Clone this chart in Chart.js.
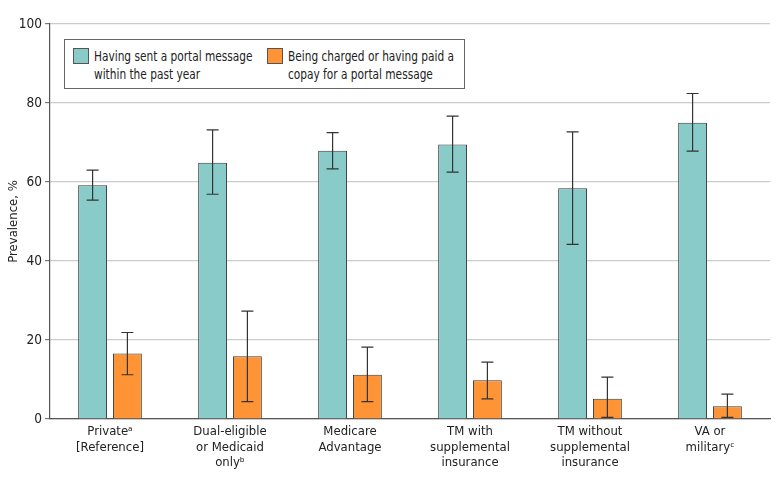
<!DOCTYPE html>
<html>
<head>
<meta charset="utf-8">
<script src="https://cdn.jsdelivr.net/npm/chart.js@4"></script>
<style>
  body { margin: 0; background: #fff; }
  #wrap { position: relative; width: 780px; height: 485px; }
  #legend {
    position: absolute; left: 64px; top: 39px; width: 401px; height: 50px;
    border: 1px solid #666; background: #fff; box-sizing: border-box;
    font-family: "DejaVu Sans Condensed", sans-serif;
    font-size: 14px; color: #222; line-height: 18px;
  }
  .item { position: absolute; top: 7px; }
  .sw { position: absolute; top: 1px; left: 0; width: 14px; height: 14px; border: 1px solid #555; }
  .txt { position: absolute; left: 21px; top: 0; white-space: nowrap; transform: scaleX(0.84); transform-origin: 0 0; }
</style>
</head>
<body>
<div id="wrap">
  <canvas id="c" width="780" height="485"></canvas>
  <div id="legend">
    <div class="item" style="left:8px"><span class="sw" style="background:#88CBC8"></span><span class="txt">Having sent a portal message<br>within the past year</span></div>
    <div class="item" style="left:202px"><span class="sw" style="background:#FF9436"></span><span class="txt">Being charged or having paid a<br>copay for a portal message</span></div>
  </div>
</div>
<script>
const categories = [
  ['Private\u1D43', '[Reference]'],
  ['Dual-eligible', 'or Medicaid', 'only\u1D47'],
  ['Medicare', 'Advantage'],
  ['TM with', 'supplemental', 'insurance'],
  ['TM without', 'supplemental', 'insurance'],
  ['VA or', 'military\u1D9C']
];
const sentMessage = [59.2, 64.9, 67.9, 69.5, 58.4, 75.0];
const sentLow = [55.4, 56.9, 63.3, 62.5, 44.2, 67.8];
const sentHigh = [63.0, 73.2, 72.5, 76.7, 72.7, 82.4];
const charged = [16.6, 15.9, 11.2, 9.8, 5.1, 3.2];
const chargedLow = [11.2, 4.4, 4.4, 5.1, 0.4, 0.4];
const chargedHigh = [21.9, 27.3, 18.2, 14.4, 10.6, 6.3];
const yTicks = [0, 20, 40, 60, 80, 100];

const font = "'DejaVu Sans Condensed', sans-serif";

// error bars drawn from the low/high arrays through the y scale
const errorBars = {
  id: 'errorBars',
  afterDatasetsDraw(chart) {
    const ctx = chart.ctx;
    const y = chart.scales.y;
    chart.data.datasets.forEach((ds, i) => {
      const meta = chart.getDatasetMeta(i);
      meta.data.forEach((bar, j) => {
        const top = y.getPixelForValue(ds.errHigh[j]);
        const bot = y.getPixelForValue(ds.errLow[j]);
        ctx.save();
        ctx.strokeStyle = '#333';
        ctx.lineWidth = 1.2;
        ctx.beginPath();
        ctx.moveTo(bar.x, top); ctx.lineTo(bar.x, bot);
        ctx.moveTo(bar.x - 6, top); ctx.lineTo(bar.x + 6, top);
        ctx.moveTo(bar.x - 6, bot); ctx.lineTo(bar.x + 6, bot);
        ctx.stroke();
        ctx.restore();
      });
    });
  }
};

new Chart(document.getElementById('c'), {
  type: 'bar',
  data: {
    labels: categories,
    datasets: [{
      label: 'Having sent a portal message within the past year',
      data: sentMessage,
      errLow: sentLow,
      errHigh: sentHigh,
      backgroundColor: '#88CBC8',
      borderColor: '#3a3a3a',
      borderWidth: 1
    }, {
      label: 'Being charged or having paid a copay for a portal message',
      data: charged,
      errLow: chargedLow,
      errHigh: chargedHigh,
      backgroundColor: '#FF9436',
      borderColor: '#3a3a3a',
      borderWidth: 1
    }]
  },
  options: {
    responsive: false,
    animation: false,
    categoryPercentage: 0.58,
    barPercentage: 0.83,
    layout: { padding: { top: 24, right: 10, left: 0, bottom: 0 } },
    plugins: { legend: { display: false }, tooltip: { enabled: false } },
    scales: {
      x: {
        grid: { display: false, drawTicks: false },
        border: { color: '#555', width: 1.2 },
        ticks: { color: '#222', font: { family: font, size: 13, lineHeight: 1.2 }, padding: 5, maxRotation: 0, autoSkip: false },
        afterFit(s) { s.height = 66; }
      },
      y: {
        min: 0, max: 100,
        afterBuildTicks(s) { s.ticks = yTicks.map(v => ({ value: v })); },
        grid: { color: '#cccccc', lineWidth: 1.2, tickLength: 5, tickColor: '#777' },
        border: { color: '#555', width: 1.2 },
        ticks: { color: '#222', font: { family: font, size: 13.5 }, padding: 3 },
        title: { display: true, text: 'Prevalence, %', color: '#222', font: { family: font, size: 13 }, padding: { top: 6, bottom: 0 } },
        afterFit(s) { s.width = 50; }
      }
    }
  },
  plugins: [errorBars]
});
</script>
</body>
</html>
